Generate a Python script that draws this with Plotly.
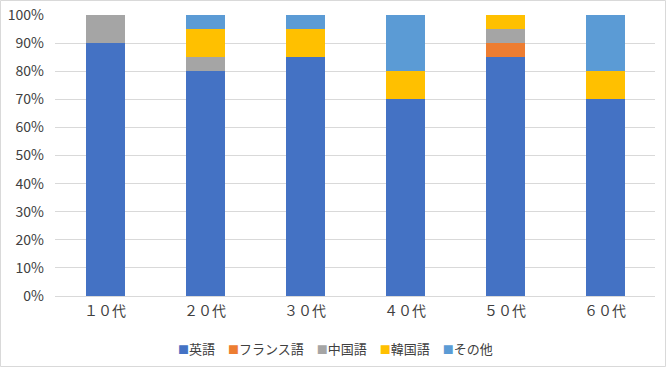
import plotly.graph_objects as go

categories = ["１０代", "２０代", "３０代", "４０代", "５０代", "６０代"]
english = [90, 80, 85, 70, 85, 70]
french = [0, 0, 0, 0, 5, 0]
chinese = [10, 5, 0, 0, 5, 0]
korean = [0, 10, 10, 10, 5, 10]
other = [0, 5, 5, 20, 0, 20]
y_ticks = [0, 10, 20, 30, 40, 50, 60, 70, 80, 90, 100]

series = [
    ("英語", english, "#4472C4"),
    ("フランス語", french, "#ED7D31"),
    ("中国語", chinese, "#A5A5A5"),
    ("韓国語", korean, "#FFC000"),
    ("その他", other, "#5B9BD5"),
]

FONT = "Noto Sans CJK JP, Liberation Sans, sans-serif"
TEXT = "#404040"
W, H = 666, 367

fig = go.Figure()
for name, vals, color in series:
    fig.add_trace(go.Bar(
        x=categories, y=vals, name=name,
        marker=dict(color=color, line=dict(width=0)),
        showlegend=False,
    ))

legend_text = "　".join(
    f"<span style='color:{c};font-size:11px'>■</span>{n}" for n, _, c in series
)

fig.update_layout(
    barmode="stack",
    bargap=0.61,
    width=W, height=H,
    margin=dict(l=0, r=0, t=0, b=0),
    paper_bgcolor="white",
    plot_bgcolor="white",
    font=dict(family=FONT, size=14, color=TEXT),
    showlegend=False,
    xaxis=dict(
        domain=[55 / W, 655 / W], automargin=False,
        showgrid=False, showline=False, ticks="",
        tickfont=dict(size=14, color=TEXT), ticklabelstandoff=5,
    ),
    yaxis=dict(
        domain=[1 - 296 / H, 1 - 15 / H], automargin=False,
        range=[0, 100], tickvals=y_ticks,
        ticktext=[f"{v}%" for v in y_ticks],
        showgrid=True, gridcolor="#D9D9D9", gridwidth=1,
        zeroline=True, zerolinecolor="#D9D9D9", zerolinewidth=1,
        showline=False, ticks="", tickfont=dict(size=14, color=TEXT),
        ticklabelstandoff=10,
    ),
    annotations=[dict(
        text=legend_text, xref="paper", yref="paper",
        x=336 / W, y=1 - 348 / H, xanchor="center", yanchor="middle",
        showarrow=False, font=dict(size=13, color=TEXT, family=FONT),
    )],
    shapes=[dict(
        type="rect", xref="paper", yref="paper",
        x0=0.5 / W, x1=1 - 0.5 / W, y0=0.5 / H, y1=1 - 0.5 / H,
        line=dict(color="#D9D9D9", width=1), fillcolor="rgba(0,0,0,0)",
        layer="below",
    )],
)

fig.write_html(
    "out.html",
    config={"displayModeBar": False},
    post_script="document.body.style.margin='0';document.body.style.padding='0';document.body.style.overflow='hidden';",
)
